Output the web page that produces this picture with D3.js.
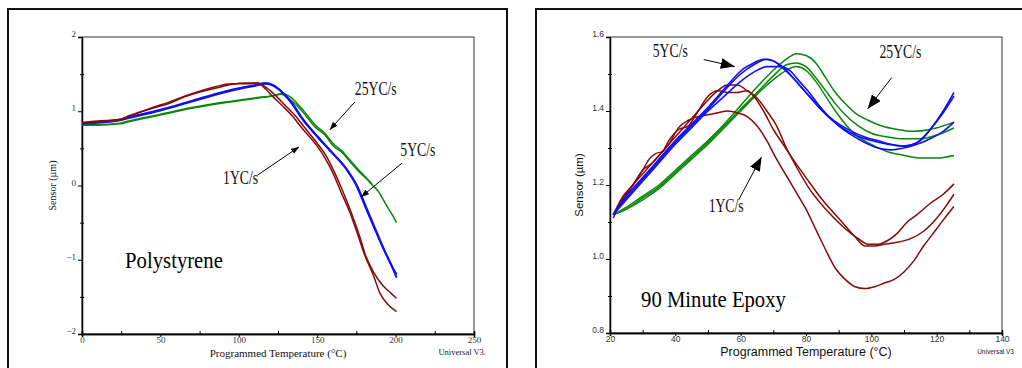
<!DOCTYPE html>
<html>
<head>
<meta charset="utf-8">
<script src="https://cdn.jsdelivr.net/npm/d3@7"></script>
<style>
  body { margin: 0; background: #fff; }
</style>
</head>
<body>
<svg id="chart" width="1022" height="368"></svg>
<script>
// ---------- Polystyrene panel data (temperature °C, sensor µm) ----------
var polyXTicks = [0, 50, 100, 150, 200, 250];
var polyXMinor = [25, 75, 125, 175, 225];
var polyYTicks = [-2, -1, 0, 1, 2];
var polyYMinor = [-1.5, -0.5, 0.5, 1.5];

var polyGreenA = [[0,0.82],[10,0.82],[24,0.84],[30,0.87],[50,0.96],[70,1.05],[90,1.12],[110,1.18],[122,1.21],[127,1.23],[132,1.17],[140,1.01],[149,0.78],[155,0.68],[160,0.54],[166,0.44],[171,0.32],[176,0.20],[181,0.10],[185,0.01],[189,-0.08],[194,-0.26],[198,-0.40],[200.6,-0.50]];
var polyGreenB = [[0,0.81],[10,0.81],[24,0.83],[30,0.86],[50,0.95],[70,1.04],[90,1.11],[110,1.17],[122,1.21],[128,1.24],[133,1.19],[140,1.04],[149,0.81],[155,0.70],[160,0.57],[166,0.46],[171,0.34],[176,0.22],[181,0.11],[185,0.02]];
var polyBlueA = [[0,0.84],[12,0.86],[24,0.89],[30,0.92],[50,1.02],[70,1.14],[90,1.26],[100,1.31],[110,1.35],[117,1.38],[122,1.35],[128,1.25],[134,1.10],[140,0.91],[150,0.66],[160,0.43],[168,0.24],[175,0.00],[180,-0.25],[186,-0.55],[192,-0.84],[197,-1.06],[200.6,-1.24]];
var polyBlueB = [[0,0.83],[12,0.85],[24,0.88],[30,0.91],[50,1.01],[70,1.13],[90,1.25],[100,1.30],[110,1.34],[118,1.37],[123,1.33],[129,1.23],[135,1.08],[141,0.89],[151,0.64],[161,0.41],[169,0.21],[176,-0.03],[181,-0.28],[187,-0.58],[193,-0.88],[198,-1.10],[200.6,-1.20]];
var polyRedA = [[0,0.85],[10,0.87],[24,0.89],[30,0.94],[45,1.04],[55,1.10],[65,1.19],[75,1.26],[85,1.31],[95,1.36],[105,1.38],[112,1.38],[117,1.30],[122,1.19],[128,1.07],[134,0.94],[140,0.78],[150,0.53],[155,0.37],[160,0.17],[165,-0.08],[171,-0.37],[176,-0.67],[180,-0.92],[186,-1.22],[190,-1.45],[195,-1.60],[200.6,-1.70]];
var polyRedB = [[0,0.84],[10,0.86],[24,0.88],[30,0.93],[45,1.05],[55,1.12],[65,1.20],[75,1.27],[85,1.33],[95,1.37],[105,1.37],[112,1.38],[118,1.31],[123,1.22],[130,1.07],[136,0.94],[142,0.78],[150,0.57],[156,0.39],[161,0.18],[166,-0.06],[172,-0.38],[177,-0.68],[181,-0.95],[186,-1.17],[192,-1.35],[197,-1.45],[200.6,-1.52]];

var polyNotes = [
  { text: "25ΥC/s", at: [174, 1.22], from: [174, 1.125], to: [158, 0.75] },
  { text: "5ΥC/s",  at: [203, 0.40], from: [204, 0.30],  to: [178, -0.155] },
  { text: "1ΥC/s",  at: [90, 0.02],  from: [112, 0.14],  to: [138.4, 0.52] }
];

// ---------- 90 Minute Epoxy panel data ----------
var epoxyXTicks = [20, 40, 60, 80, 100, 120, 140];
var epoxyXMinor = [30, 50, 70, 90, 110, 130];
var epoxyYTicks = [0.8, 1.0, 1.2, 1.4, 1.6];
var epoxyYMinor = [0.9, 1.1, 1.3, 1.5];

var epoxyGreenA = [[21,1.12],[25,1.14],[30,1.17],[35,1.20],[40,1.24],[45,1.28],[50,1.32],[55,1.365],[60,1.415],[65,1.465],[70,1.51],[74,1.54],[77,1.555],[80,1.55],[83,1.53],[86,1.49],[89,1.45],[92,1.42],[95,1.395],[99,1.375],[103,1.36],[108,1.35],[113,1.345],[118,1.35],[122,1.36],[125.3,1.37]];
var epoxyGreenB = [[21,1.12],[25,1.135],[30,1.165],[35,1.195],[40,1.235],[45,1.275],[50,1.315],[55,1.36],[60,1.405],[65,1.45],[70,1.495],[74,1.525],[77,1.53],[80,1.52],[83,1.49],[86,1.455],[89,1.42],[92,1.39],[96,1.36],[100,1.34],[105,1.33],[110,1.325],[115,1.325],[120,1.335],[125.3,1.354]];
var epoxyGreenC = [[21,1.12],[25,1.135],[30,1.16],[35,1.19],[40,1.23],[45,1.27],[50,1.31],[55,1.355],[60,1.40],[65,1.445],[70,1.485],[74,1.51],[77,1.52],[80,1.51],[83,1.48],[86,1.44],[89,1.40],[92,1.365],[96,1.33],[100,1.31],[105,1.29],[110,1.28],[115,1.273],[120,1.273],[125.3,1.28]];
var epoxyBlueA = [[21,1.12],[25,1.17],[30,1.22],[35,1.27],[40,1.32],[45,1.365],[50,1.41],[55,1.46],[58,1.49],[61,1.515],[64,1.53],[67,1.54],[70,1.535],[73,1.515],[76,1.49],[79,1.46],[82,1.43],[85,1.40],[88,1.375],[91,1.355],[95,1.335],[100,1.32],[105,1.31],[110,1.305],[114,1.315],[118,1.35],[122,1.40],[125.3,1.45]];
var epoxyBlueB = [[21,1.12],[25,1.165],[30,1.215],[35,1.265],[40,1.315],[45,1.36],[50,1.405],[55,1.455],[60,1.50],[64,1.525],[68,1.54],[72,1.525],[75,1.50],[78,1.47],[81,1.44],[84,1.41],[87,1.385],[90,1.365],[94,1.345],[98,1.33],[102,1.32],[106,1.31],[110,1.305],[115,1.32],[119,1.36],[122,1.395],[125.3,1.44]];
var epoxyBlueC = [[21,1.12],[25,1.16],[30,1.21],[35,1.26],[40,1.31],[45,1.355],[50,1.40],[55,1.44],[60,1.48],[64,1.505],[68,1.52],[72,1.52],[75,1.51],[78,1.48],[81,1.45],[84,1.415],[87,1.385],[90,1.36],[94,1.335],[98,1.315],[102,1.30],[106,1.295],[110,1.30],[114,1.31],[118,1.325],[122,1.345],[125.3,1.37]];
var epoxyRedA = [[21,1.11],[23,1.15],[26,1.19],[29,1.22],[32,1.25],[35,1.28],[38,1.31],[41,1.34],[44,1.37],[47,1.40],[50,1.43],[53,1.455],[56,1.47],[59,1.47],[62,1.455],[65,1.435],[68,1.40],[71,1.36],[74,1.30],[77,1.25],[81,1.19],[86,1.135],[91,1.09],[96,1.055],[99,1.04],[102,1.04],[105,1.05],[108,1.07],[111,1.10],[114,1.12],[118,1.15],[122,1.175],[125.3,1.203]];
var epoxyRedB = [[21,1.12],[24,1.17],[27,1.20],[30,1.24],[32,1.27],[34,1.285],[36,1.29],[38,1.32],[41,1.35],[44,1.36],[47,1.40],[50,1.44],[53,1.455],[56,1.45],[59,1.45],[62,1.455],[64,1.44],[67,1.40],[70,1.35],[73,1.31],[76,1.27],[80,1.22],[85,1.16],[90,1.11],[95,1.06],[98,1.035],[101,1.035],[104,1.04],[108,1.045],[112,1.055],[116,1.075],[120,1.11],[123,1.145],[125.3,1.175]];
var epoxyRedC = [[21,1.12],[24,1.16],[27,1.20],[30,1.24],[33,1.26],[35,1.28],[38,1.31],[41,1.355],[44,1.375],[47,1.385],[50,1.39],[53,1.395],[56,1.40],[59,1.395],[62,1.385],[65,1.36],[68,1.32],[71,1.27],[74,1.225],[77,1.18],[80,1.135],[83,1.08],[86,1.025],[89,0.975],[92,0.945],[95,0.925],[98,0.92],[101,0.925],[104,0.935],[107,0.945],[110,0.965],[113,0.995],[116,1.035],[119,1.07],[122,1.105],[125.3,1.142]];

var epoxyNotes = [
  { text: "5ΥC/s",  at: [33.1, 1.547], from: [48.7, 1.539], to: [58.2, 1.52] },
  { text: "25ΥC/s", at: [102.5, 1.544], from: [106.2, 1.49], to: [98.9, 1.406] },
  { text: "1ΥC/s",  at: [50.2, 1.127], from: [59.4, 1.16],  to: [66.4, 1.276] }
];

var GREEN = "#0a870a", BLUE = "#1010f5", RED = "#850a0a";
var SERIF = "'Liberation Serif', 'Times New Roman', serif";
var SANS = "'Liberation Sans', Arial, sans-serif";

var svg = d3.select("#chart");

var defs = svg.append("defs");
defs.append("marker").attr("id", "headSmall")
  .attr("viewBox", "0 0 8 6").attr("refX", 8).attr("refY", 3)
  .attr("markerWidth", 8).attr("markerHeight", 6)
  .attr("markerUnits", "userSpaceOnUse").attr("orient", "auto")
  .append("path").attr("d", "M0,0L8,3L0,6z").attr("fill", "#000");
defs.append("marker").attr("id", "headBig")
  .attr("viewBox", "0 0 14 11").attr("refX", 14).attr("refY", 5.5)
  .attr("markerWidth", 14).attr("markerHeight", 11)
  .attr("markerUnits", "userSpaceOnUse").attr("orient", "auto")
  .append("path").attr("d", "M0,0L14,5.5L0,11z").attr("fill", "#000");

// squeeze serif text a bit, like the original print
function squeeze(sel, k) {
  sel.each(function() {
    var w = this.getComputedTextLength();
    d3.select(this).attr("textLength", w * k).attr("lengthAdjust", "spacingAndGlyphs");
  });
}

function drawPanel(p) {
  var g = svg.append("g");

  // outer frame
  g.append("rect")
    .attr("x", p.frame[0]).attr("y", p.frame[1])
    .attr("width", p.frame[2]).attr("height", p.frame[3])
    .attr("fill", "none").attr("stroke", "#111").attr("stroke-width", 2);

  var x = d3.scaleLinear().domain(p.xDomain).range([p.left, p.right]);
  var y = d3.scaleLinear().domain(p.yDomain).range([p.bottom, p.top]);

  // plot box
  g.append("rect")
    .attr("x", p.left).attr("y", p.top)
    .attr("width", p.right - p.left).attr("height", p.bottom - p.top)
    .attr("fill", "none").attr("stroke", "#333").attr("stroke-width", 1);

  // x axis
  var xg = g.append("g").attr("transform", "translate(0," + p.bottom + ")")
    .call(d3.axisBottom(x).tickValues(p.xTicks).tickSize(3).tickPadding(0).tickFormat(p.xFmt));
  g.append("g").attr("transform", "translate(0," + p.bottom + ")")
    .call(d3.axisBottom(x).tickValues(p.xMinor).tickSize(-3).tickFormat(""));
  // y axis
  var yg = g.append("g").attr("transform", "translate(" + p.left + ",0)")
    .call(d3.axisLeft(y).tickValues(p.yTicks).tickSize(4).tickPadding(2).tickFormat(p.yFmt));
  g.append("g").attr("transform", "translate(" + (p.left + 2) + ",0)")
    .call(d3.axisLeft(y).tickValues(p.yMinor).tickSize(4).tickFormat(""))
    .select(".domain").remove();

  g.selectAll(".domain").attr("stroke", "#000").attr("stroke-width", 1.5);
  g.selectAll(".tick line").attr("stroke", "#000");
  xg.selectAll("text").attr("font-family", p.font).attr("font-size", p.tickSize).attr("fill", "#333");
  yg.selectAll("text").attr("font-family", p.font).attr("font-size", p.tickSize).attr("fill", "#333").attr("dy", "-0.05em");

  // curves
  var line = d3.line().x(function(d) { return x(d[0]); }).y(function(d) { return y(d[1]); })
    .curve(d3.curveMonotoneX);
  g.append("g").selectAll("path").data(p.series).enter().append("path")
    .attr("d", function(s) { return line(s.data); })
    .attr("fill", "none")
    .attr("stroke", function(s) { return s.color; })
    .attr("stroke-width", function(s) { return s.width; })
    .attr("stroke-linejoin", "round");

  // annotations
  p.notes.forEach(function(n) {
    g.append("line")
      .attr("x1", x(n.from[0])).attr("y1", y(n.from[1]))
      .attr("x2", x(n.to[0])).attr("y2", y(n.to[1]))
      .attr("stroke", "#000").attr("stroke-width", 1)
      .attr("marker-end", "url(#" + p.head + ")");
    g.append("text")
      .attr("x", x(n.at[0])).attr("y", y(n.at[1]))
      .attr("font-family", SERIF).attr("font-size", 18).attr("fill", "#111")
      .text(n.text)
      .call(squeeze, 0.76);
  });

  // sample name
  g.append("text")
    .attr("x", x(p.title.at[0])).attr("y", y(p.title.at[1]))
    .attr("font-family", SERIF).attr("font-size", 23).attr("fill", "#000")
    .text(p.title.text)
    .call(squeeze, 0.9);

  // axis titles
  g.append("text")
    .attr("x", (p.left + p.right) / 2).attr("y", p.bottom + 23)
    .attr("text-anchor", "middle")
    .attr("font-family", p.font).attr("font-size", p.titleSize).attr("fill", "#111")
    .text("Programmed Temperature (°C)");
  g.append("text")
    .attr("transform", "translate(" + (p.left - p.yTitleGap) + "," + ((p.top + p.bottom) / 2) + ") rotate(-90)")
    .attr("text-anchor", "middle")
    .attr("font-family", p.font).attr("font-size", p.titleSize - 1).attr("fill", "#111")
    .text("Sensor (µm)");
  g.append("text")
    .attr("x", p.right + 12).attr("y", p.bottom + 21)
    .attr("text-anchor", "end")
    .attr("font-family", p.font).attr("font-size", p.verSize).attr("fill", "#222")
    .text(p.version);
}

drawPanel({
  frame: [8, 9, 499, 380],
  left: 82, right: 474, top: 37, bottom: 334,
  xDomain: [0, 250], yDomain: [-2, 2],
  xTicks: polyXTicks, xMinor: polyXMinor, yTicks: polyYTicks, yMinor: polyYMinor,
  xFmt: d3.format("d"), yFmt: d3.format("d"),
  font: SERIF, tickSize: 9, titleSize: 11, yTitleGap: 26, verSize: 8.5, version: "Universal V3.",
  head: "headSmall",
  series: [
    { data: polyGreenA, color: GREEN, width: 1.5 },
    { data: polyGreenB, color: GREEN, width: 1.5 },
    { data: polyBlueA, color: BLUE, width: 2 },
    { data: polyBlueB, color: BLUE, width: 2 },
    { data: polyRedA, color: RED, width: 1.5 },
    { data: polyRedB, color: RED, width: 1.5 }
  ],
  notes: polyNotes,
  title: { text: "Polystyrene", at: [27.5, -1.11] }
});

drawPanel({
  frame: [536, 9, 500, 380],
  left: 610, right: 1002, top: 37, bottom: 333,
  xDomain: [20, 140], yDomain: [0.8, 1.6],
  xTicks: epoxyXTicks, xMinor: epoxyXMinor, yTicks: epoxyYTicks, yMinor: epoxyYMinor,
  xFmt: d3.format("d"), yFmt: d3.format(".1f"),
  font: SANS, tickSize: 8.5, titleSize: 12.5, yTitleGap: 27, verSize: 6.5, version: "Universal V3",
  head: "headBig",
  series: [
    { data: epoxyGreenA, color: GREEN, width: 1.5 },
    { data: epoxyGreenB, color: GREEN, width: 1.5 },
    { data: epoxyGreenC, color: GREEN, width: 1.5 },
    { data: epoxyRedA, color: RED, width: 1.5 },
    { data: epoxyRedB, color: RED, width: 1.5 },
    { data: epoxyRedC, color: RED, width: 1.5 },
    { data: epoxyBlueA, color: BLUE, width: 1.6 },
    { data: epoxyBlueB, color: BLUE, width: 1.6 },
    { data: epoxyBlueC, color: BLUE, width: 1.6 }
  ],
  notes: epoxyNotes,
  title: { text: "90 Minute Epoxy", at: [29.5, 0.87] }
});
</script>
</body>
</html>
